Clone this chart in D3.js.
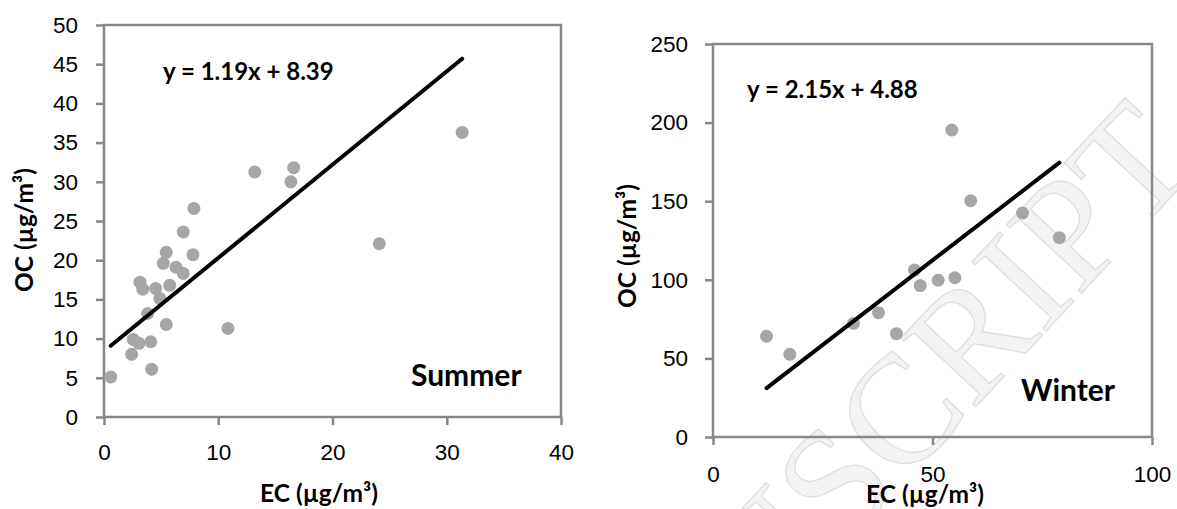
<!DOCTYPE html>
<html>
<head>
<meta charset="utf-8">
<script src="https://cdn.jsdelivr.net/npm/d3@7"></script>
<style>
  body { margin: 0; background: #fff; }
  svg { display: block; font-family: Lato, "Open Sans", sans-serif; }
</style>
</head>
<body>
<svg id="chart" width="1177" height="509"></svg>
<script>
// Summer samples: EC and OC (ug/m3)
var summerEC = [0.59, 2.42, 2.56, 3.06, 3.15, 3.39, 3.82, 4.09, 4.17, 4.52, 4.90, 5.19, 5.45, 5.45, 5.75, 6.30, 6.94, 6.94, 7.79, 7.87, 10.85, 13.2, 16.36, 16.6, 24.1, 31.35];
var summerOC = [5.1, 8.0, 9.9, 9.4, 17.2, 16.3, 13.2, 9.6, 6.1, 16.4, 15.1, 19.6, 21.0, 11.8, 16.8, 19.1, 18.3, 23.6, 20.7, 26.6, 11.3, 31.25, 30.0, 31.8, 22.1, 36.3];

// Winter samples
var winterEC = [12.2, 17.5, 32.0, 37.7, 41.8, 45.9, 47.2, 51.3, 54.4, 55.1, 58.7, 70.5, 78.9];
var winterOC = [64.1, 52.6, 72.3, 79.1, 65.7, 106.2, 96.3, 99.7, 195.3, 101.3, 150.3, 142.5, 126.8];

// linear fits printed on the chart
var summerFit = [1.19, 8.39];
var winterFit = [2.15, 4.88];

var summerXTicks = [0, 10, 20, 30, 40];
var summerYTicks = [0, 5, 10, 15, 20, 25, 30, 35, 40, 45, 50];
var winterXTicks = [0, 50, 100];
var winterYTicks = [0, 50, 100, 150, 200, 250];

var AXIS_GREY = "#878787";
var POINT_GREY = "#a6a6a6";

var svg = d3.select("#chart");

// faint watermark behind everything
svg.append("text")
   .attr("transform", "translate(1201,165) rotate(-47)")
   .attr("text-anchor", "end")
   .attr("font-family", "'Liberation Serif', 'DejaVu Serif', serif")
   .attr("font-size", 155)
   .attr("fill", "#f3f3f3")
   .attr("stroke", "#dedede")
   .attr("stroke-width", 1.3)
   .text("ACCEPTED MANUSCRIPT");

function drawPanel(p) {

  let x = d3.scaleLinear().domain(p.xDomain).range([p.left, p.right]);
  let y = d3.scaleLinear().domain(p.yDomain).range([p.bottom, p.top]);

  let g = svg.append("g");

  // x axis
  let xAxis = d3.axisBottom(x).tickValues(p.xTicks).tickSizeInner(8).tickSizeOuter(0).tickPadding(p.xPad);
  g.append("g")
   .attr("transform", "translate(0," + p.bottom + ")")
   .call(xAxis);

  // y axis
  let yAxis = d3.axisLeft(y).tickValues(p.yTicks).tickSizeInner(8).tickSizeOuter(0).tickPadding(p.yPad);
  g.append("g")
   .attr("transform", "translate(" + p.left + ",0)")
   .call(yAxis);

  g.selectAll(".domain").remove();
  g.selectAll(".tick line").attr("stroke", AXIS_GREY).attr("stroke-width", 2.5);
  g.selectAll(".tick text")
   .attr("font-size", 22.5)
   .attr("fill", "#000");

  // plot frame
  g.append("rect")
   .attr("x", p.left)
   .attr("y", p.top)
   .attr("width", p.right - p.left)
   .attr("height", p.bottom - p.top)
   .attr("fill", "none")
   .attr("stroke", AXIS_GREY)
   .attr("stroke-width", 2.5);

  // points
  let pts = p.xs.map((v, i) => [v, p.ys[i]]);
  g.selectAll("circle.pt")
   .data(pts)
   .enter().append("circle")
     .attr("class", "pt")
     .attr("cx", d => x(d[0]))
     .attr("cy", d => y(d[1]))
     .attr("r", 6.5)
     .attr("fill", POINT_GREY);

  // trend line across the data range
  let ext = d3.extent(p.xs);
  let line = d3.line().x(d => x(d)).y(d => y(p.fit[0] * d + p.fit[1]));
  g.append("path")
   .attr("d", line(ext))
   .attr("stroke", "#000")
   .attr("stroke-width", 4)
   .attr("stroke-linecap", "round")
   .attr("fill", "none");

  // equation
  g.append("text")
   .attr("x", p.eqX)
   .attr("y", p.eqY)
   .attr("font-size", 24)
   .attr("font-weight", "bold")
   .text("y = " + p.fit[0].toFixed(2) + "x + " + p.fit[1].toFixed(2));

  // season label
  g.append("text")
   .attr("x", p.seasonX)
   .attr("y", p.seasonY)
   .attr("font-size", 30)
   .attr("font-weight", "bold")
   .text(p.season);

  // axis titles
  g.append("text")
   .attr("x", p.xTitleX)
   .attr("y", p.xTitleY)
   .attr("text-anchor", "middle")
   .attr("font-size", 24.5)
   .attr("font-weight", "bold")
   .text("EC (µg/m³)");

  g.append("text")
   .attr("transform", "translate(" + p.yTitleX + "," + p.yTitleY + ") rotate(-90)")
   .attr("text-anchor", "middle")
   .attr("font-size", 24.5)
   .attr("font-weight", "bold")
   .text("OC (µg/m³)");
}

drawPanel({
  xs: summerEC, ys: summerOC, fit: summerFit,
  xDomain: [0, 40], yDomain: [0, 50],
  xTicks: summerXTicks, yTicks: summerYTicks,
  left: 104, right: 561, top: 25, bottom: 417,
  xPad: 19, yPad: 18,
  eqX: 163, eqY: 80,
  season: "Summer", seasonX: 411, seasonY: 386,
  xTitleX: 319, xTitleY: 502,
  yTitleX: 33, yTitleY: 230
});

drawPanel({
  xs: winterEC, ys: winterOC, fit: winterFit,
  xDomain: [0, 100], yDomain: [0, 250],
  xTicks: winterXTicks, yTicks: winterYTicks,
  left: 713, right: 1152, top: 44, bottom: 437,
  xPad: 21, yPad: 17,
  eqX: 747, eqY: 98,
  season: "Winter", seasonX: 1021, seasonY: 401,
  xTitleX: 925, xTitleY: 503,
  yTitleX: 636, yTitleY: 246
});
</script>
</body>
</html>
